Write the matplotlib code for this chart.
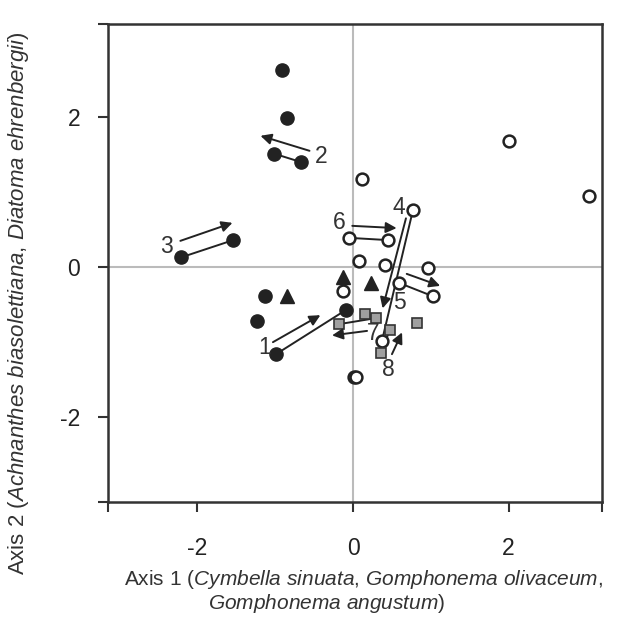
import matplotlib
matplotlib.use("Agg")
import matplotlib.pyplot as plt
import numpy as np

plt.rcParams['font.family'] = ['Liberation Sans', 'DejaVu Sans']
plt.rcParams['mathtext.fontset'] = 'custom'
plt.rcParams['mathtext.rm'] = 'Liberation Sans'
plt.rcParams['mathtext.it'] = 'Liberation Sans:italic'

# sample scores, by group
filled_x = [-0.91, -0.85, -1.01, -0.67, -2.21, -1.54, -1.13, -1.23, -0.99, -0.09]
filled_y = [2.63, 1.99, 1.51, 1.40, 0.13, 0.36, -0.39, -0.72, -1.16, -0.57]

tri_x = [-0.85, -0.13, 0.23]
tri_y = [-0.39, -0.13, -0.21]

open_x = [0.12, 0.77, -0.05, 0.45, 0.08, 0.41, 0.96, 0.59, 1.03, -0.13, 0.37, 0.01, 0.04, 2.0, 3.03]
open_y = [1.17, 0.76, 0.39, 0.36, 0.08, 0.03, -0.01, -0.21, -0.39, -0.32, -0.99, -1.47, -1.47, 1.68, 0.95]

sq_x = [0.15, 0.29, -0.18, 0.47, 0.82, 0.36]
sq_y = [-0.63, -0.68, -0.76, -0.84, -0.75, -1.15]

# paired samples joined by a line
pairs = [
    ((-1.01, 1.51), (-0.67, 1.40)),
    ((-2.21, 0.13), (-1.54, 0.36)),
    ((-0.99, -1.16), (-0.09, -0.57)),
    ((-0.05, 0.39), (0.45, 0.36)),
    ((0.77, 0.76), (0.37, -0.99)),
    ((0.59, -0.21), (1.03, -0.39)),
    ((-0.18, -0.76), (0.29, -0.68)),
    ((0.36, -1.15), (0.47, -0.84)),
]

# direction arrows: (start, end, label, label position)
arrows = [
    ((-0.56, 1.55), (-1.19, 1.75), "2", (-0.41, 1.47)),
    ((-2.22, 0.35), (-1.55, 0.59), "3", (-2.40, 0.27)),
    ((-1.03, -1.00), (-0.42, -0.64), "1", (-1.14, -1.07)),
    ((-0.01, 0.55), (0.56, 0.52), "6", (-0.18, 0.60)),
    ((0.68, 0.65), (0.38, -0.55), "4", (0.59, 0.80)),
    ((0.69, -0.09), (1.12, -0.25), "5", (0.60, -0.47)),
    ((0.18, -0.85), (-0.27, -0.91), "7", (0.26, -0.88)),
    ((0.50, -1.16), (0.63, -0.87), "8", (0.45, -1.36)),
]

dark = '#222222'

fig = plt.figure(figsize=(6.19, 6.18), dpi=100)
ax = fig.add_axes([0.1745, 0.1877, 0.798, 0.7735])

ax.axhline(0, color='#bbbbbb', lw=1.5, zorder=0)
ax.axvline(0, color='#bbbbbb', lw=1.5, zorder=0)

for (a, b) in pairs:
    ax.plot([a[0], b[0]], [a[1], b[1]], color=dark, lw=1.4, zorder=1)

ax.plot(filled_x, filled_y, 'o', ms=9.5, color=dark, zorder=3)
ax.plot(tri_x, tri_y, '^', ms=9.5, color=dark, zorder=3)
ax.plot(open_x, open_y, 'o', ms=8.5, mfc='white', mec=dark, mew=1.8, zorder=3)
ax.plot(sq_x, sq_y, 's', ms=7.5, mfc='#a0a0a0', mec='#333333', mew=1.2, zorder=3)

for start, end, lab, lpos in arrows:
    ax.annotate("", xy=end, xytext=start,
                arrowprops=dict(arrowstyle='-|>', color=dark, lw=1.4,
                                mutation_scale=16, shrinkA=0, shrinkB=0),
                zorder=4)
    ax.text(lpos[0], lpos[1], lab, fontsize=16.5, color='#333333',
            ha='center', va='center', zorder=5)

ax.set_xlim(-3.15, 3.2)
ax.set_ylim(-3.13, 3.24)
ax.set_xticks([-3.15, -2, 0, 2, 3.2])
ax.set_xticklabels(['', '-2', '0', '2', ''])
ax.set_yticks([-3.13, -2, 0, 2, 3.24])
ax.set_yticklabels(['', '-2', '0', '2', ''])
ax.tick_params(direction='out', length=7, width=1.5, color='#333333',
               labelsize=16.5, labelcolor='#222222')
ax.tick_params(axis='x', pad=18)
ax.tick_params(axis='y', pad=13)
for s in ax.spines.values():
    s.set_linewidth(1.8)
    s.set_color('#333333')

fig.text(0.2, 0.062,
         r"Axis 1 ($\it{Cymbella\ sinuata{,}\ Gomphonema\ olivaceum{,}}$",
         fontsize=15, color='#333333', ha='left', va='center')
fig.text(0.336, 0.023, r"$\it{Gomphonema\ angustum}$)",
         fontsize=15, color='#333333', ha='left', va='center')
fig.text(0.03, 0.51,
         r"Axis 2 ($\it{Achnanthes\ biasolettiana{,}\ Diatoma\ ehrenbergii}$)",
         fontsize=16, color='#333333', ha='center', va='center', rotation=90)

fig.savefig("out.png", dpi=100)
